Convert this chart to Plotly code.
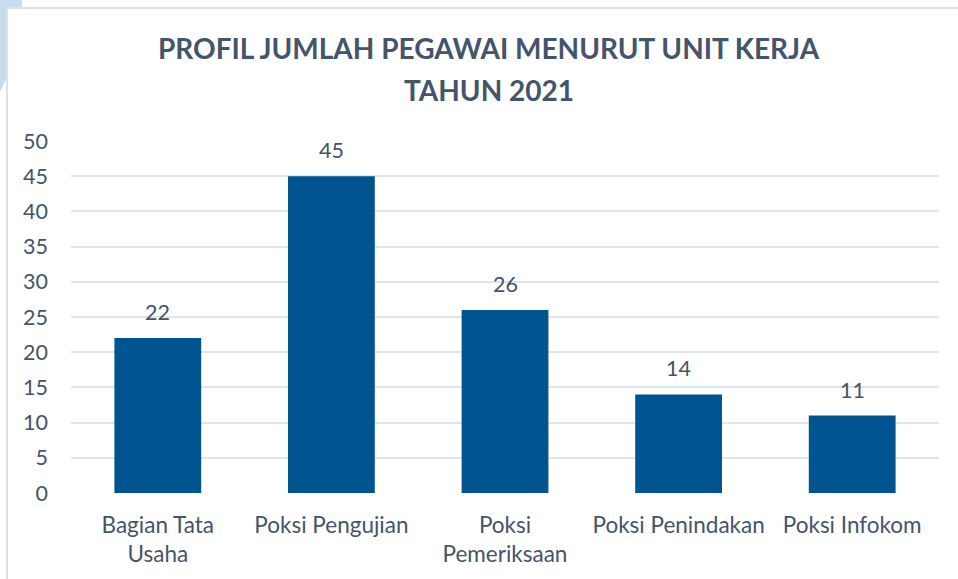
import plotly.graph_objects as go

categories = ["Bagian Tata<br>Usaha", "Poksi Pengujian", "Poksi<br>Pemeriksaan", "Poksi Penindakan", "Poksi Infokom"]
values = [22, 45, 26, 14, 11]
y_ticks = [0, 5, 10, 15, 20, 25, 30, 35, 40, 45, 50]
title_lines = ["PROFIL JUMLAH PEGAWAI MENURUT UNIT KERJA", "TAHUN 2021"]

W, H = 958, 579
ML, MR, MT, MB = 71, 19, 141, 86
text_color = "#44546A"
bar_color = "#00548F"
grid_color = "#E1E5EB"
font_family = "Lato, Open Sans, sans-serif"


def px(x):
    return (x - ML) / (W - ML - MR)


def py(y):
    return (H - MB - y) / (H - MT - MB)


fig = go.Figure()
fig.add_trace(go.Bar(
    x=categories, y=values,
    marker=dict(color=bar_color, line=dict(width=0)),
    hoverinfo="x+y",
))

annotations = [
    dict(x=c, y=v, xref="x", yref="y", text=str(v), showarrow=False,
         yanchor="bottom", yshift=11,
         font=dict(size=21.5, color=text_color, family=font_family))
    for c, v in zip(categories, values)
]
for line, yc in zip(title_lines, [48, 90]):
    annotations.append(dict(
        x=px(489), y=py(yc), xref="paper", yref="paper", text=f"<b>{line}</b>",
        showarrow=False, xanchor="center", yanchor="middle",
        font=dict(size=28, color=text_color, family=font_family)))

fig.update_layout(
    width=W, height=H,
    paper_bgcolor="white", plot_bgcolor="rgba(0,0,0,0)",
    margin=dict(l=ML, r=MR, t=MT, b=MB, autoexpand=False),
    bargap=0.5,
    showlegend=False,
    xaxis=dict(
        showgrid=False, zeroline=False, showline=False,
        tickfont=dict(size=22.5, color=text_color, family=font_family),
        ticks="", ticklabelstandoff=16,
    ),
    yaxis=dict(
        range=[0, 50], tickvals=y_ticks, ticktext=[str(t) for t in y_ticks],
        showgrid=True, gridcolor=grid_color, gridwidth=2,
        zeroline=False, showline=False,
        tickfont=dict(size=21.5, color=text_color, family=font_family),
        ticks="", ticklabelstandoff=22,
    ),
    annotations=annotations,
    shapes=[
        # decorative light-blue corner behind the frame
        dict(type="path", xref="paper", yref="paper",
             path=f"M {px(0)},{py(0)} L {px(22)},{py(0)} L {px(22)},{py(45)} L {px(0)},{py(92)} Z",
             fillcolor="#C6DDF0", line=dict(width=0), layer="below"),
        # chart frame (white panel with light border)
        dict(type="rect", xref="paper", yref="paper",
             x0=px(7), x1=px(W + 5), y0=py(8), y1=py(H + 5),
             fillcolor="white", line=dict(color="#DCE1E8", width=2), layer="below"),
    ],
)

fig.write_html("out.html", config={"displayModeBar": False},
               post_script="document.body.style.margin='0';")
